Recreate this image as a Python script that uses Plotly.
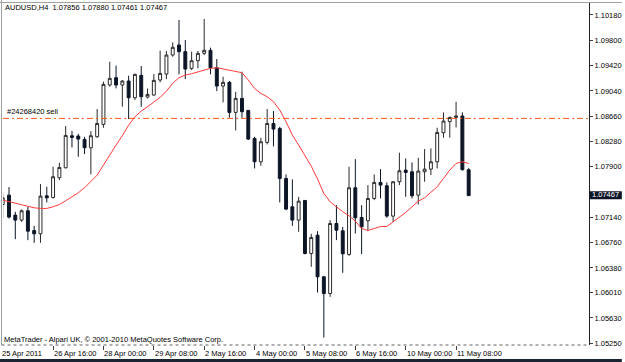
import plotly.graph_objects as go

# ---------------- data ----------------
title_text = "AUDUSD,H4  1.07856 1.07880 1.07461 1.07467"
order_label = "#24268420 sell"
order_price = 1.08627
copyright_text = "MetaTrader - Alpari UK, \u00a9 2001-2010 MetaQuotes Software Corp."

opens = [1.07334, 1.07474, 1.07174, 1.07099, 1.07239, 1.06943, 1.06893, 1.07464, 1.07439, 1.07735,
         1.07885, 1.08366, 1.08361, 1.08311, 1.08186, 1.08351, 1.08536, 1.09128, 1.09238, 1.09128,
         1.09188, 1.08937, 1.09273, 1.08947, 1.08977, 1.09203, 1.09293, 1.09578, 1.09729, 1.09629,
         1.09378, 1.09493, 1.09604, 1.09649, 1.09388, 1.09113, 1.09168, 1.08717, 1.08927, 1.08747,
         1.08326, 1.07975, 1.08266, 1.08551, 1.08476, 1.07725, 1.07299, 1.07099, 1.07394, 1.06598,
         1.06873, 1.06247, 1.05996, 1.07048, 1.06938, 1.06583, 1.07585, 1.07139, 1.07089, 1.07424,
         1.07665, 1.07615, 1.07159, 1.07675, 1.07850, 1.07825, 1.07474, 1.07825, 1.07865, 1.07975,
         1.08411, 1.08577, 1.08642, 1.08662, 1.07856]

highs = [1.07499, 1.07595, 1.07224, 1.07259, 1.07299, 1.07013, 1.07640, 1.07600, 1.07900, 1.07960,
         1.08511, 1.08436, 1.08396, 1.08351, 1.08436, 1.08767, 1.09178, 1.09478, 1.09418, 1.09203,
         1.09268, 1.09298, 1.09413, 1.09077, 1.09293, 1.09644, 1.09639, 1.09769, 1.10105, 1.09804,
         1.09629, 1.09639, 1.10120, 1.09689, 1.09518, 1.09253, 1.09188, 1.09027, 1.09328, 1.08752,
         1.08351, 1.08336, 1.08767, 1.08737, 1.08501, 1.07785, 1.07710, 1.07449, 1.07399, 1.06893,
         1.06933, 1.06262, 1.07099, 1.07324, 1.06998, 1.07900, 1.08015, 1.07324, 1.07625, 1.07785,
         1.07865, 1.07665, 1.07685, 1.08111, 1.08025, 1.07965, 1.08035, 1.08166, 1.08176, 1.08486,
         1.08717, 1.08652, 1.08877, 1.08717, 1.07880]

lows = [1.07124, 1.07124, 1.06813, 1.07073, 1.06798, 1.06758, 1.06758, 1.07364, 1.07424, 1.07700,
        1.07875, 1.08191, 1.08050, 1.08091, 1.07785, 1.08336, 1.08486, 1.09103, 1.09077, 1.08802,
        1.08617, 1.08902, 1.08802, 1.08927, 1.08967, 1.09168, 1.09218, 1.09553, 1.09288, 1.09218,
        1.09353, 1.09378, 1.09578, 1.09288, 1.09037, 1.08867, 1.08637, 1.08446, 1.08637, 1.08301,
        1.07875, 1.07915, 1.08236, 1.08206, 1.07364, 1.07249, 1.07013, 1.06923, 1.06583, 1.06397,
        1.06011, 1.05335, 1.05946, 1.06798, 1.06307, 1.06562, 1.06898, 1.06588, 1.06933, 1.07399,
        1.07424, 1.07134, 1.07073, 1.07625, 1.07449, 1.07424, 1.07334, 1.07675, 1.07775, 1.07875,
        1.08336, 1.08336, 1.08491, 1.07845, 1.07461]

closes = [1.07434, 1.07144, 1.07099, 1.07239, 1.06933, 1.06893, 1.07459, 1.07434, 1.07750, 1.07890,
          1.08371, 1.08341, 1.08316, 1.08186, 1.08366, 1.08551, 1.09138, 1.09228, 1.09128, 1.09188,
          1.08937, 1.09288, 1.08952, 1.08987, 1.09198, 1.09303, 1.09578, 1.09694, 1.09629, 1.09368,
          1.09493, 1.09604, 1.09649, 1.09388, 1.09113, 1.09168, 1.08717, 1.08927, 1.08727, 1.08316,
          1.07975, 1.08276, 1.08551, 1.08466, 1.07725, 1.07264, 1.07099, 1.07384, 1.06598, 1.06838,
          1.06247, 1.05996, 1.07048, 1.06948, 1.06593, 1.07585, 1.07134, 1.06998, 1.07424, 1.07665,
          1.07625, 1.07159, 1.07675, 1.07840, 1.07815, 1.07464, 1.07835, 1.07865, 1.07975, 1.08416,
          1.08587, 1.08642, 1.08662, 1.07856, 1.07467]

moving_avg = [1.07399, 1.07374, 1.07349, 1.07334, 1.07309, 1.07284, 1.07274, 1.07274, 1.07299, 1.07334,
              1.07389, 1.07449, 1.07509, 1.07585, 1.07675, 1.07775, 1.07925, 1.08086, 1.08226, 1.08366,
              1.08526, 1.08652, 1.08737, 1.08802, 1.08877, 1.08942, 1.09037, 1.09153, 1.09238, 1.09278,
              1.09298, 1.09328, 1.09353, 1.09378, 1.09388, 1.09368, 1.09353, 1.09338, 1.09313, 1.09203,
              1.09077, 1.09002, 1.08952, 1.08877, 1.08752, 1.08577, 1.08376, 1.08226, 1.08076, 1.07910,
              1.07715, 1.07499, 1.07374, 1.07299, 1.07224, 1.07164, 1.07084, 1.06973, 1.06943, 1.06973,
              1.07003, 1.07003, 1.07073, 1.07134, 1.07214, 1.07299, 1.07384, 1.07434, 1.07524, 1.07600,
              1.07725, 1.07850, 1.07950, 1.07975, 1.07950]

x_label_bars = [8, 16, 24, 32, 40, 48, 56, 64, 72]
x_label_text = ["26 Apr 16:00", "28 Apr 00:00", "29 Apr 08:00", "2 May 16:00", "4 May 00:00",
                "5 May 08:00", "6 May 16:00", "10 May 00:00", "11 May 08:00"]
first_date_label = "25 Apr 2011"

# (the 1.07520 level is hidden behind the current-price box in the reference)
y_tick_vals = [1.10180, 1.09800, 1.09420, 1.09040, 1.08660, 1.08280, 1.07900,
               1.07140, 1.06760, 1.06380, 1.06010, 1.05630, 1.05250]
y_tick_text = ["%.5f" % v for v in y_tick_vals]

# ---------------- figure ----------------
W, H = 625, 362
ML, MR, MT, MB = 3, 33, 3, 17
PW, PH = W - ML - MR, H - MT - MB
def px_x(px):   # pixel -> paper x
    return (px - ML) / PW
def px_y(py):   # pixel -> paper y
    return (H - MB - py) / PH

FONT = "Liberation Sans, Arial, sans-serif"
bars = list(range(len(closes)))

fig = go.Figure()
fig.add_trace(go.Candlestick(
    x=bars, open=opens, high=highs, low=lows, close=closes,
    increasing=dict(line=dict(color="#2a2a2a", width=1), fillcolor="#ffffff"),
    decreasing=dict(line=dict(color="#0c1626", width=1), fillcolor="#0c1626"),
    whiskerwidth=0, hoverinfo="skip"))
fig.add_trace(go.Scatter(x=bars, y=moving_avg, mode="lines",
                         line=dict(color="#ff3b3b", width=1), hoverinfo="skip"))

shapes = []
# order line
shapes.append(dict(type="line", xref="paper", yref="y", x0=0, x1=1, y0=order_price, y1=order_price,
                   line=dict(color="#ff5a1f", width=1, dash="6px,3px,2px,3px"), layer="above"))
# chart / window frame
shapes.append(dict(type="line", xref="paper", yref="paper", x0=px_x(1.5), x1=px_x(1.5), y0=px_y(0), y1=px_y(345),
                   line=dict(color="#a0a0a0", width=1)))
shapes.append(dict(type="line", xref="paper", yref="paper", x0=px_x(0), x1=px_x(625), y0=px_y(2.5), y1=px_y(2.5),
                   line=dict(color="#a0a0a0", width=1)))
shapes.append(dict(type="line", xref="paper", yref="paper", x0=px_x(1.5), x1=1, y0=0, y1=0,
                   line=dict(color="#606060", width=1, dash="dot")))
# window bottom band
shapes.append(dict(type="rect", xref="paper", yref="paper", x0=px_x(0), x1=px_x(625), y0=px_y(359), y1=px_y(362),
                   fillcolor="#1b2433", line=dict(width=0)))
# current price box
last = closes[-1]
shapes.append(dict(type="rect", xref="paper", yref="y", x0=px_x(592.5), x1=px_x(625),
                   y0=last - 0.00055, y1=last + 0.00065, fillcolor="#0c1626",
                   line=dict(width=0), layer="above"))

annotations = []
annotations.append(dict(text=title_text, xref="paper", yref="paper", x=px_x(4), y=px_y(2.5),
                        xanchor="left", yanchor="top", showarrow=False, borderpad=0,
                        font=dict(family=FONT, size=7.5, color="black")))
annotations.append(dict(text=order_label, xref="paper", yref="y", x=px_x(6), y=order_price,
                        xanchor="left", yanchor="bottom", showarrow=False, borderpad=0, yshift=1,
                        font=dict(family=FONT, size=7.5, color="black")))
annotations.append(dict(text=copyright_text, xref="paper", yref="paper", x=px_x(3), y=0,
                        xanchor="left", yanchor="bottom", showarrow=False, borderpad=0, yshift=0,
                        font=dict(family=FONT, size=7.5, color="black")))
annotations.append(dict(text=first_date_label, xref="paper", yref="paper", x=px_x(1), y=0,
                        xanchor="left", yanchor="top", showarrow=False, borderpad=0, yshift=-3,
                        font=dict(family=FONT, size=7.5, color="black")))
for b, t in zip(x_label_bars, x_label_text):
    annotations.append(dict(text=t, xref="x", yref="paper", x=b, y=0, xanchor="left", yanchor="top",
                            showarrow=False, borderpad=0, yshift=-3, xshift=0,
                            font=dict(family=FONT, size=7.5, color="black")))
annotations.append(dict(text="%.5f" % last, xref="paper", yref="y", x=px_x(594.5), y=last,
                        xanchor="left", yanchor="middle", showarrow=False, borderpad=0, yshift=1,
                        font=dict(family=FONT, size=7.5, color="white")))

fig.update_layout(
    width=W, height=H, margin=dict(l=ML, r=MR, t=MT, b=MB, pad=0),
    paper_bgcolor="white", plot_bgcolor="white", showlegend=False, boxgap=0.34,
    font=dict(family=FONT, size=7.5, color="black"),
    shapes=shapes, annotations=annotations, hovermode=False)
fig.update_xaxes(range=[0.047, 93.11], showgrid=False, zeroline=False, rangeslider_visible=False,
                 tickvals=x_label_bars, ticks="outside", ticklen=4, tickcolor="#404040",
                 showticklabels=False, showline=False, fixedrange=True)
fig.update_yaxes(side="right", range=[1.05223, 1.10360], tickvals=y_tick_vals, ticktext=y_tick_text,
                 ticks="outside", ticklen=3, tickcolor="#404040", showgrid=False, zeroline=False,
                 showline=True, linecolor="#202020", linewidth=1, fixedrange=True,
                 tickfont=dict(family=FONT, size=7.5, color="black"))

fig.write_html("out.html")
